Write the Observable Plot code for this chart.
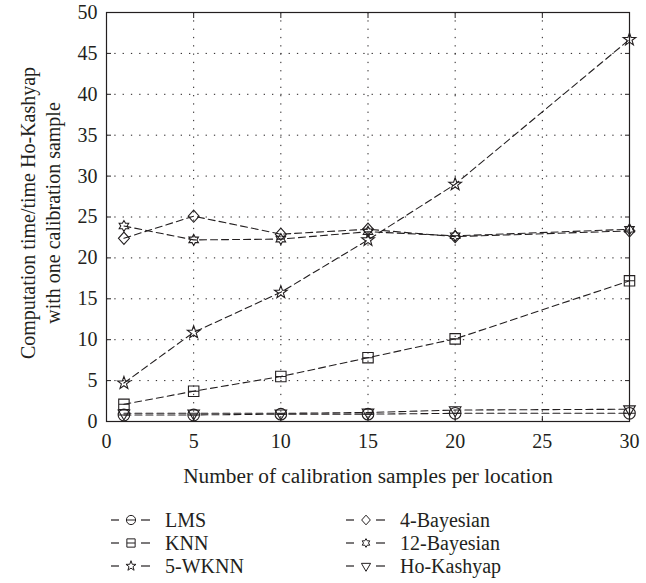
<!DOCTYPE html>
<html>
<head>
<meta charset="utf-8">
<script src="https://cdn.jsdelivr.net/npm/d3@7"></script>
<script src="https://cdn.jsdelivr.net/npm/@observablehq/plot@0.6"></script>
<style>
  html, body { margin: 0; padding: 0; background: #fff; }
  #chart { width: 646px; }
  .legend text { font-family: "Liberation Serif", "DejaVu Serif", serif; font-size: 20px; fill: #231f20; }
</style>
</head>
<body>
<div id="chart"></div>
<script>
// ---- data ----
const samples = [1, 5, 10, 15, 20, 30];
const seriesNames = ["LMS", "KNN", "5-WKNN", "4-Bayesian", "12-Bayesian", "Ho-Kashyap"];
const lms        = [0.8, 0.8, 0.9, 0.9, 1.0, 1.0];
const knn        = [2.1, 3.7, 5.5, 7.8, 10.1, 17.2];
const wknn5      = [4.7, 10.9, 15.8, 22.2, 29.0, 46.7];
const bayes4     = [22.4, 25.1, 22.9, 23.5, 22.6, 23.3];
const bayes12    = [23.9, 22.2, 22.3, 23.2, 22.7, 23.5];
const hoKashyap  = [1.0, 1.0, 1.0, 1.1, 1.4, 1.5];
const xTicks = [0, 5, 10, 15, 20, 25, 30];
const yTicks = [0, 5, 10, 15, 20, 25, 30, 35, 40, 45, 50];
const xLabel = "Number of calibration samples per location";
const yLabel = "Computation time/time Ho-Kashyap\nwith one calibration sample";

// ---- custom marker shapes (MATLAB-like) ----
const rad = size => Math.sqrt(size / Math.PI);
function starPath(ctx, n, R, r, rot) {
  for (let i = 0; i < 2 * n; i++) {
    const a = rot + i * Math.PI / n;
    const rr = i % 2 === 0 ? R : r;
    const x = rr * Math.sin(a), y = -rr * Math.cos(a);
    i === 0 ? ctx.moveTo(x, y) : ctx.lineTo(x, y);
  }
  ctx.closePath();
}
const symCircle = { draw(ctx, size) { const R = rad(size); ctx.moveTo(R, 0); ctx.arc(0, 0, R, 0, 2 * Math.PI); ctx.moveTo(-R, 0); ctx.lineTo(R, 0); } };
const symSquare = { draw(ctx, size) { const s = rad(size) * 0.9; ctx.rect(-s, -s, 2 * s, 2 * s); ctx.moveTo(-s, 0); ctx.lineTo(s, 0); } };
const symStar = { draw(ctx, size) { const R = rad(size) * 1.15; starPath(ctx, 5, R, R * 0.4, 0); } };
const symDiamond = { draw(ctx, size) { const R = rad(size) * 1.05; ctx.moveTo(0, -R); ctx.lineTo(R * 0.9, 0); ctx.lineTo(0, R); ctx.lineTo(-R * 0.9, 0); ctx.closePath(); } };
const symHex = { draw(ctx, size) { const R = rad(size) * 0.95; starPath(ctx, 6, R, R * 0.577, 0); } };
const symTriDown = { draw(ctx, size) { const R = rad(size) * 1.15; ctx.moveTo(-R * 0.87, -R * 0.5); ctx.lineTo(R * 0.87, -R * 0.5); ctx.lineTo(0, R); ctx.closePath(); } };
const symbols = [symCircle, symSquare, symStar, symDiamond, symHex, symTriDown];
const values = [lms, knn, wknn5, bayes4, bayes12, hoKashyap];

const rows = [];
seriesNames.forEach((name, si) => {
  samples.forEach((x, i) => rows.push({ series: name, x, y: values[si][i], si }));
});

const ink = "#231f20";
const dash = "7,4";
const font = '"Liberation Serif", "DejaVu Serif", serif';

const marks = [
  Plot.gridX(xTicks.slice(1, -1), { stroke: ink, strokeOpacity: 1, strokeDasharray: "1.3,7", strokeWidth: 1 }),
  Plot.gridY(yTicks.slice(1, -1), { stroke: ink, strokeOpacity: 1, strokeDasharray: "1.3,7", strokeWidth: 1 }),
  // inward ticks on all four sides
  Plot.axisX(xTicks, { anchor: "bottom", tickSize: 5, dy: -5, tickFormat: () => "", label: null, stroke: ink }),
  Plot.axisX(xTicks, { anchor: "top", tickSize: 5, dy: 5, tickFormat: () => "", label: null, stroke: ink }),
  Plot.axisY(yTicks, { anchor: "left", tickSize: 5, dx: 5, tickFormat: () => "", label: null, stroke: ink }),
  Plot.axisY(yTicks, { anchor: "right", tickSize: 5, dx: -5, tickFormat: () => "", label: null, stroke: ink }),
  // tick labels
  Plot.axisX(xTicks, { anchor: "bottom", tickSize: 0, tickPadding: 12, label: null, fontSize: 20, fill: ink }),
  Plot.axisY(yTicks, { anchor: "left", tickSize: 0, tickPadding: 9, label: null, fontSize: 20, fill: ink }),
  Plot.frame({ stroke: ink, strokeWidth: 1.2 }),
  Plot.line(rows, { x: "x", y: "y", z: "series", stroke: ink, strokeWidth: 1.1, strokeDasharray: dash })
];
seriesNames.forEach((name, si) => {
  marks.push(Plot.dot(rows.filter(d => d.series === name), { x: "x", y: "y", r: 5.8, symbol: symbols[si], stroke: ink, fill: "none", strokeWidth: 1.1 }));
});
// axis labels
marks.push(Plot.text([xLabel], { frameAnchor: "bottom", lineAnchor: "middle", dy: 55, fontSize: 21.3, fill: ink, text: d => d }));
marks.push(Plot.text([yLabel], { frameAnchor: "left", textAnchor: "middle", lineAnchor: "middle", rotate: -90, dx: -67, dy: -4, fontSize: 20, lineHeight: 1.22, fill: ink, text: d => d }));

const plot = Plot.plot({
  width: 646,
  height: 490,
  marginLeft: 106,
  marginRight: 17,
  marginTop: 12,
  marginBottom: 69,
  x: { domain: [0, 30] },
  y: { domain: [0, 50] },
  style: { fontFamily: font, fontSize: "20px", color: ink, background: "white", overflow: "visible" },
  marks
});
document.getElementById("chart").appendChild(plot);

// ---- legend ----
const leg = d3.select("#chart").append("svg")
  .attr("class", "legend").attr("width", 646).attr("height", 93).style("display", "block");
const colX = [111, 346];
const rowY = [30, 53, 76];
const order = [[0, 0, 0], [1, 0, 1], [2, 0, 2], [3, 1, 0], [4, 1, 1], [5, 1, 2]];
order.forEach(([si, c, r]) => {
  const g = leg.append("g").attr("transform", `translate(${colX[c]},${rowY[r]})`);
  g.append("line").attr("x1", 0).attr("x2", 8).attr("y1", 0).attr("y2", 0).attr("stroke", ink).attr("stroke-width", 1.2);
  g.append("line").attr("x1", 30).attr("x2", 39).attr("y1", 0).attr("y2", 0).attr("stroke", ink).attr("stroke-width", 1.2);
  g.append("path").attr("transform", "translate(20,0)")
    .attr("d", d3.symbol(symbols[si], Math.PI * 4.6 * 4.6)())
    .attr("fill", "none").attr("stroke", ink).attr("stroke-width", 1);
  g.append("text").attr("x", 54).attr("y", 0).attr("dy", "0.35em").text(seriesNames[si]);
});
</script>
</body>
</html>
